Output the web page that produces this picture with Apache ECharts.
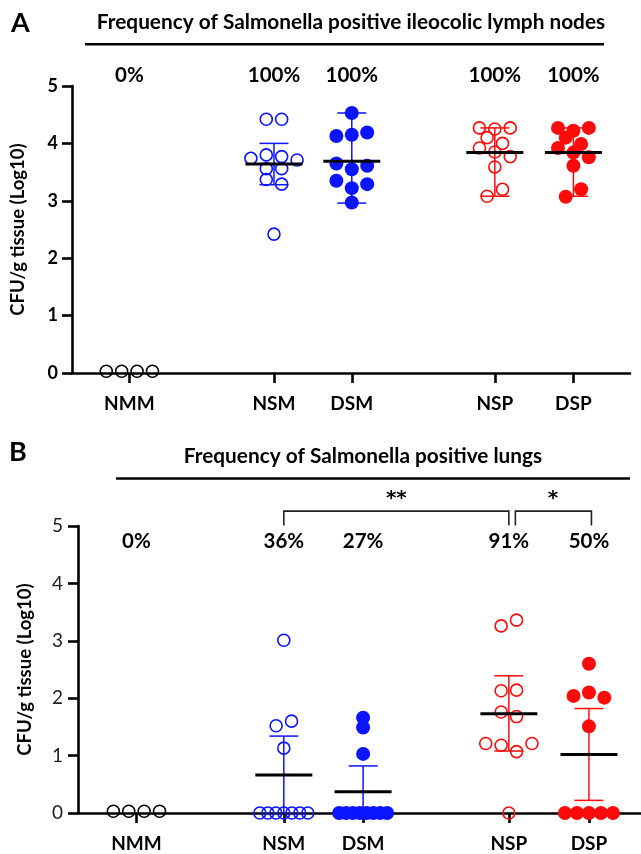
<!DOCTYPE html>
<html>
<head>
<meta charset="utf-8">
<script src="https://cdn.jsdelivr.net/npm/echarts@6/dist/echarts.min.js"></script>
<style>
html,body{margin:0;padding:0;background:#fff;}
#chart{width:641px;height:854px;}
</style>
</head>
<body>
<div id="chart"></div>
<script>
// ---------------- DATA ----------------
const categories = ['NMM', 'NSM', 'DSM', 'NSP', 'DSP'];
const yTicks = [0, 1, 2, 3, 4, 5];

// Panel A: ileocolic lymph nodes (log10 CFU/g), listed top row first, left to right
const lnNMM = [0.03, 0.03, 0.03, 0.03];
const lnNSM = [4.42, 4.42, 3.74, 3.80, 3.77, 3.71, 3.56, 3.56, 3.37, 3.29, 2.42];
const lnDSM = [4.53, 4.13, 4.15, 4.19, 3.65, 3.55, 3.61, 3.35, 3.22, 3.29, 2.97];
const lnNSP = [4.27, 4.25, 4.27, 4.10, 4.00, 3.92, 3.85, 3.77, 3.59, 3.08, 3.20];
const lnDSP = [4.27, 4.22, 4.27, 4.10, 3.99, 3.92, 3.84, 3.76, 3.61, 3.07, 3.20];
const lnMean = [null, 3.64, 3.69, 3.84, 3.84];
const lnErrLow = [null, 3.28, 2.96, 3.08, 3.08];
const lnErrHigh = [null, 4.00, 4.53, 4.27, 4.27];
const lnPositive = ['0%', '100%', '100%', '100%', '100%'];

// Panel B: lungs
const luNMM = [0.03, 0.03, 0.03, 0.03];
const luNSM = [3.01, 1.52, 1.60, 1.13, 0, 0, 0, 0, 0, 0, 0];
const luDSM = [1.66, 1.49, 1.03, 0, 0, 0, 0, 0, 0, 0, 0];
const luNSP = [3.26, 3.36, 2.13, 2.14, 1.76, 1.68, 1.21, 1.18, 1.07, 1.21, 0];
const luDSP = [2.60, 2.04, 2.10, 2.01, 1.51, 0, 0, 0, 0, 0];
const luMean = [null, 0.66, 0.37, 1.73, 1.02];
const luErrLow = [null, 0, 0, 1.08, 0.22];
const luErrHigh = [null, 1.34, 0.82, 2.39, 1.82];
const luPositive = ['0%', '36%', '27%', '91%', '50%'];
const luBrackets = [[1, 3, '**'], [3, 4, '*']];

const titleA = 'Frequency of Salmonella positive ileocolic lymph nodes';
const titleB = 'Frequency of Salmonella positive lungs';
const yName = 'CFU/g tissue (Log10)';

// ---------------- LAYOUT / STYLE ----------------
const groupX = [0.73, 2.57, 3.56, 5.38, 6.38];
const groupColor = ['#000000', '#0a14ff', '#0a14ff', '#ff0a0a', '#ff0a0a'];
const groupFilled = [false, false, true, false, true];
const FONT = 'Lato';
const ROW_THR = 0.165, DOT_STEP = 15.4, MAX_W = 48;

const panels = [
  { grid: {left: 72, top: 86, width: 558, height: 287}, xMax: 7.1,
    groups: [lnNMM, lnNSM, lnDSM, lnNSP, lnDSP], mean: lnMean, lo: lnErrLow, hi: lnErrHigh,
    positive: lnPositive, posY: 5.19, tickBold: true, brackets: [] },
  { grid: {left: 78, top: 526, width: 563, height: 287}, xMax: 7.03,
    groups: [luNMM, luNSM, luDSM, luNSP, luDSP], mean: luMean, lo: luErrLow, hi: luErrHigh,
    positive: luPositive, posY: 4.73, tickBold: false, brackets: luBrackets }
];

function swarmOffsets(values, pxPerUnit) {
  const rows = []; let cur = null;
  values.forEach((v, i) => {
    if (!cur || Math.abs(v - cur.start) > ROW_THR) { cur = {start: v, idx: []}; rows.push(cur); }
    cur.idx.push(i);
  });
  const off = new Array(values.length).fill(0);
  rows.forEach(r => {
    const k = r.idx.length;
    const step = k > 1 ? Math.min(DOT_STEP, MAX_W / (k - 1)) : 0;
    r.idx.forEach((ii, j) => { off[ii] = (j - (k - 1) / 2) * step / pxPerUnit; });
  });
  return off;
}

const grids = [], xAxes = [], yAxes = [], series = [];

panels.forEach((p, pi) => {
  grids.push(p.grid);
  const ppu = p.grid.width / p.xMax;
  xAxes.push({
    gridIndex: pi, type: 'value', min: 0, max: p.xMax,
    axisLine: {show: true, onZero: false, lineStyle: {color: '#000', width: 2.6}},
    axisTick: {show: true, customValues: groupX, length: 10, lineStyle: {color: '#000', width: 2.6}},
    axisLabel: {show: true, customValues: groupX, margin: 21,
      formatter: v => { let b = 0; groupX.forEach((g, i) => { if (Math.abs(g - v) < Math.abs(groupX[b] - v)) b = i; }); return categories[b]; },
      color: '#000', fontFamily: FONT, fontWeight: 'bold', fontSize: 19},
    splitLine: {show: false}
  });
  yAxes.push({
    gridIndex: pi, type: 'value', min: yTicks[0], max: yTicks[yTicks.length - 1], interval: 1,
    axisLine: {show: true, lineStyle: {color: '#000', width: 2.6}},
    axisTick: {show: true, length: 10, lineStyle: {color: '#000', width: 2.6}},
    axisLabel: {margin: p.tickBold ? 14 : 15, color: p.tickBold ? '#000' : '#222', fontFamily: FONT,
      fontWeight: p.tickBold ? 'bold' : 'normal', fontSize: p.tickBold ? 18 : 19},
    splitLine: {show: false},
    name: yName, nameLocation: 'middle', nameRotate: 90, nameGap: pi === 0 ? 44 : 43,
    nameTextStyle: {color: '#000', fontFamily: FONT, fontWeight: 'bold', fontSize: 18.5}
  });

  // data points
  p.groups.forEach((vals, gi) => {
    const off = swarmOffsets(vals, ppu);
    series.push({
      type: 'scatter', xAxisIndex: pi, yAxisIndex: pi, z: 3, clip: false,
      symbol: 'circle', symbolSize: groupFilled[gi] ? 14 : 12,
      itemStyle: groupFilled[gi]
        ? {color: groupColor[gi], opacity: 1}
        : {color: 'rgba(0,0,0,0)', borderColor: groupColor[gi], borderWidth: 1.6, opacity: 1},
      data: vals.map((v, i) => [groupX[gi] + off[i], v]),
      silent: true, animation: false
    });
  });

  // mean + error bars
  series.push({
    type: 'custom', xAxisIndex: pi, yAxisIndex: pi, z: 4, animation: false, silent: true,
    data: categories.map((c, i) => [groupX[i], p.mean[i] == null ? 0 : p.mean[i]]),
    renderItem: (params, api) => {
      const i = params.dataIndex;
      if (p.mean[i] == null) return null;
      const children = [];
      const col = groupColor[i];
      const xv = groupX[i];
      if (p.hi[i] != null) {
        const top = api.coord([xv, p.hi[i]]);
        const bot = api.coord([xv, p.lo[i]]);
        children.push({type: 'line', shape: {x1: top[0], y1: top[1], x2: bot[0], y2: bot[1]}, style: {stroke: col, lineWidth: 1.5}});
        children.push({type: 'line', shape: {x1: top[0] - 14.5, y1: top[1], x2: top[0] + 14.5, y2: top[1]}, style: {stroke: col, lineWidth: 1.5}});
        if (p.lo[i] > 0) children.push({type: 'line', shape: {x1: bot[0] - 14.5, y1: bot[1], x2: bot[0] + 14.5, y2: bot[1]}, style: {stroke: col, lineWidth: 1.5}});
      }
      const m = api.coord([xv, p.mean[i]]);
      children.push({type: 'line', shape: {x1: m[0] - 28.5, y1: m[1], x2: m[0] + 28.5, y2: m[1]}, style: {stroke: '#000', lineWidth: 3}});
      return {type: 'group', children};
    }
  });

  // percentage labels
  series.push({
    type: 'scatter', xAxisIndex: pi, yAxisIndex: pi, z: 5, clip: false, symbolSize: 0, silent: true, animation: false,
    itemStyle: {opacity: 1},
    data: categories.map((c, i) => ({value: [groupX[i], p.posY], label: {formatter: p.positive[i]}})),
    label: {show: true, position: 'inside', color: '#000', fontFamily: FONT, fontWeight: 'bold', fontSize: 20.5}
  });

  // significance brackets
  if (p.brackets.length) {
    series.push({
      type: 'custom', xAxisIndex: pi, yAxisIndex: pi, z: 5, animation: false, silent: true, clip: false,
      data: p.brackets.map(b => [groupX[b[0]], 5]),
      renderItem: (params, api) => {
        const b = p.brackets[params.dataIndex];
        const a = api.coord([groupX[b[0]], 5.26]);
        const e = api.coord([groupX[b[1]], 5.26]);
        const bottom = api.coord([0, 5.01])[1];
        const x1 = a[0] + (params.dataIndex > 0 ? 6.5 : 0);
        const x2 = e[0] + (params.dataIndex > 0 ? 2.5 : 0);
        return {type: 'polyline', shape: {points: [[x1, bottom], [x1, a[1]], [x2, a[1]], [x2, bottom]]},
          style: {stroke: '#222', lineWidth: 1.6, fill: null}};
      }
    });
    series.push({
      type: 'scatter', xAxisIndex: pi, yAxisIndex: pi, z: 5, clip: false, symbolSize: 0, silent: true, animation: false,
      itemStyle: {opacity: 1},
      data: p.brackets.map(b => ({value: [(groupX[b[0]] + groupX[b[1]]) / 2 + (b[0] === 3 ? 0.05 : 0), 5.47], label: {formatter: b[2]}})),
      label: {show: true, position: 'inside', color: '#000', fontFamily: 'DejaVu Sans', fontWeight: 'bold', fontSize: 20}
    });
  }
});

const chart = echarts.init(document.getElementById('chart'), null, {renderer: 'canvas'});
chart.setOption({
  animation: false,
  backgroundColor: '#fff',
  grid: grids, xAxis: xAxes, yAxis: yAxes, series: series,
  graphic: [
    {type: 'text', left: 11, top: 10, style: {text: 'A', font: 'bold 27px ' + FONT, fill: '#000'}},
    {type: 'text', left: 9, top: 439, style: {text: 'B', font: 'bold 27px ' + FONT, fill: '#000'}},
    {type: 'text', x: 351, y: 22, style: {text: titleA, font: 'bold 20.8px ' + FONT, fill: '#000', align: 'center', verticalAlign: 'middle'}},
    {type: 'text', x: 363, y: 456, style: {text: titleB, font: 'bold 20.8px ' + FONT, fill: '#000', align: 'center', verticalAlign: 'middle'}},
    {type: 'line', shape: {x1: 85, y1: 44.3, x2: 604, y2: 44.3}, style: {stroke: '#000', lineWidth: 2.6}},
    {type: 'line', shape: {x1: 116, y1: 478.5, x2: 630, y2: 478.5}, style: {stroke: '#000', lineWidth: 2.6}}
  ]
});
</script>
</body>
</html>
